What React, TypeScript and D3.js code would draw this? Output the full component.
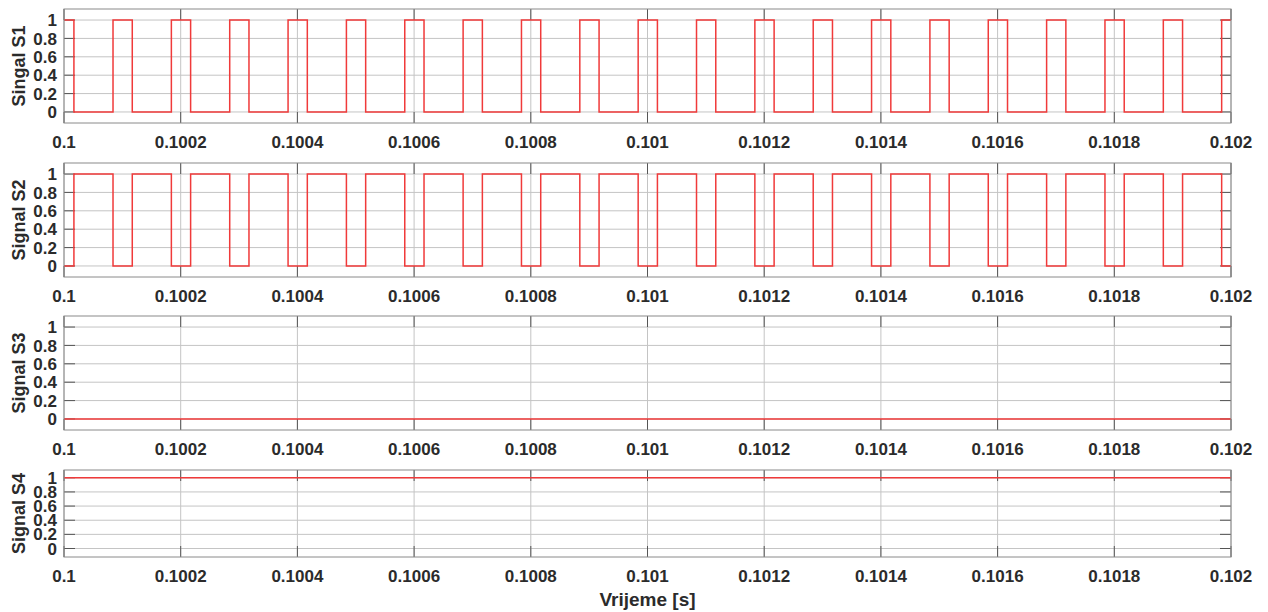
import React from "react";
import * as d3 from "d3";

// time axis (seconds)
const xTickValues = [0.1, 0.1002, 0.1004, 0.1006, 0.1008, 0.101, 0.1012, 0.1014, 0.1016, 0.1018, 0.102];
const xTickLabels = ["0.1", "0.1002", "0.1004", "0.1006", "0.1008", "0.101", "0.1012", "0.1014", "0.1016", "0.1018", "0.102"];
const yTickValues = [0, 0.2, 0.4, 0.6, 0.8, 1];
const yTickLabels = ["0", "0.2", "0.4", "0.6", "0.8", "1"];

// S1 high intervals, microseconds after t = 0.1 s
const s1High: [number, number][] = [
  [0, 17], [84, 117], [184, 217], [284, 317], [384, 417], [484, 517], [584, 617],
  [684, 717], [784, 817], [884, 917], [984, 1017], [1084, 1117], [1184, 1217],
  [1284, 1317], [1384, 1417], [1484, 1517], [1584, 1617], [1684, 1717], [1784, 1817],
  [1884, 1917], [1984, 2000],
];
// S2 low intervals, microseconds after t = 0.1 s
const s2Low: [number, number][] = [
  [0, 17], [84, 117], [184, 217], [284, 317], [384, 417], [484, 517], [584, 617],
  [684, 717], [784, 817], [884, 917], [984, 1017], [1084, 1117], [1184, 1217],
  [1284, 1317], [1384, 1417], [1484, 1517], [1584, 1617], [1684, 1717], [1784, 1817],
  [1884, 1917], [1984, 2000],
];
const s3Level = 0;
const s4Level = 1;

const yLabels = ["Singal S1", "Signal S2", "Signal S3", "Signal S4"];
const xLabel = "Vrijeme [s]";

const T0 = 0.1;
const T1 = 0.102;

function pulsePoints(intervals: [number, number][], base: number, level: number): [number, number][] {
  const pts: [number, number][] = [];
  const start = 0, end = 2000;
  if (intervals[0][0] > start) pts.push([start, base]);
  intervals.forEach(([a, b]) => {
    if (a > start) pts.push([a, base]);
    pts.push([a, level]);
    pts.push([b, level]);
    if (b < end) pts.push([b, base]);
  });
  if (intervals[intervals.length - 1][1] < end) pts.push([end, base]);
  return pts.map(([t, v]) => [T0 + t * 1e-6, v]);
}

const series: [number, number][][] = [
  pulsePoints(s1High, 0, 1),
  pulsePoints(s2Low, 1, 0),
  [[T0, s3Level], [T1, s3Level]],
  [[T0, s4Level], [T1, s4Level]],
];

const panels = [
  { top: 9, bottom: 123, ymin: -0.12, ymax: 1.12 },
  { top: 163, bottom: 277, ymin: -0.12, ymax: 1.12 },
  { top: 316, bottom: 430, ymin: -0.12, ymax: 1.12 },
  { top: 470, bottom: 557, ymin: -0.12, ymax: 1.11 },
];

const LEFT = 64;
const RIGHT = 1231;
const FONT = "'Liberation Sans', Arial, sans-serif";
const TEXT = "#2b2b2b";
const GRID = "#c4c4c4";
const FRAME = "#8a8a8a";
const TICK = "#555";

export default function App() {
  const x = d3.scaleLinear().domain([T0, T1]).range([LEFT, RIGHT]);
  return (
    <svg width={1268} height={612} style={{ position: "absolute", left: 0, top: 0, background: "#fff" }}>
      {panels.map((p, i) => {
        const y = d3.scaleLinear().domain([p.ymin, p.ymax]).range([p.bottom, p.top]);
        const line = d3.line<[number, number]>().x(d => x(d[0])).y(d => y(d[1]));
        const cy = (p.top + p.bottom) / 2;
        return (
          <g key={i}>
            {/* grid */}
            {yTickValues.map(v => (
              <line key={"gy" + v} x1={LEFT} x2={RIGHT} y1={y(v)} y2={y(v)} stroke={GRID} strokeWidth={1} />
            ))}
            {xTickValues.map(v => (
              <line key={"gx" + v} x1={x(v)} x2={x(v)} y1={p.top} y2={p.bottom} stroke={GRID} strokeWidth={1} />
            ))}
            {/* tick marks */}
            {yTickValues.map(v => (
              <g key={"ty" + v}>
                <line x1={LEFT} x2={LEFT + 11} y1={y(v)} y2={y(v)} stroke={TICK} strokeWidth={1} />
                <line x1={RIGHT - 11} x2={RIGHT} y1={y(v)} y2={y(v)} stroke={TICK} strokeWidth={1} />
              </g>
            ))}
            {xTickValues.map(v => (
              <g key={"tx" + v}>
                <line x1={x(v)} x2={x(v)} y1={p.bottom} y2={p.bottom - 11} stroke={TICK} strokeWidth={1} />
                <line x1={x(v)} x2={x(v)} y1={p.top} y2={p.top + 11} stroke={TICK} strokeWidth={1} />
              </g>
            ))}
            {/* signal */}
            <path d={line(series[i]) || ""} fill="none" stroke="#f03a3a" strokeWidth={1.5} />
            {/* frame */}
            <rect x={LEFT} y={p.top} width={RIGHT - LEFT} height={p.bottom - p.top} fill="none" stroke={FRAME} strokeWidth={1} />
            {/* y tick labels */}
            {yTickValues.map((v, k) => (
              <text key={"ly" + v} x={57} y={y(v)} dy="0.36em" textAnchor="end" fontFamily={FONT} fontWeight="bold" fontSize={17} fill={TEXT}>
                {yTickLabels[k]}
              </text>
            ))}
            {/* x tick labels */}
            {xTickValues.map((v, k) => (
              <text key={"lx" + v} x={x(v)} y={p.bottom + 25} textAnchor="middle" fontFamily={FONT} fontWeight="bold" fontSize={17} fill={TEXT}>
                {xTickLabels[k]}
              </text>
            ))}
            {/* y label */}
            <text transform={`translate(25,${cy}) rotate(-90)`} textAnchor="middle" fontFamily={FONT} fontWeight="bold" fontSize={18} fill={TEXT}>
              {yLabels[i]}
            </text>
          </g>
        );
      })}
      <text x={(LEFT + RIGHT) / 2} y={606} textAnchor="middle" fontFamily={FONT} fontWeight="bold" fontSize={19} fill={TEXT}>
        {xLabel}
      </text>
    </svg>
  );
}
